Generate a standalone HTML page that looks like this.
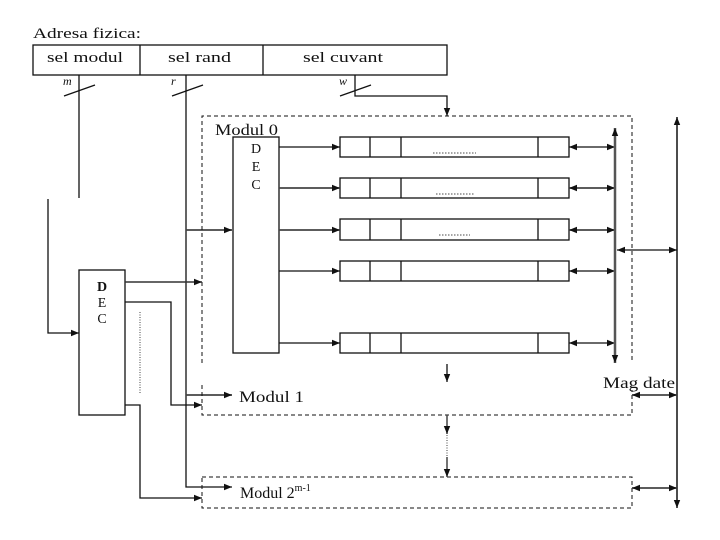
<!DOCTYPE html>
<html><head><meta charset="utf-8"><style>
html,body{margin:0;padding:0;background:#fff;}
svg{display:block;}
text{font-family:"Liberation Serif",serif;fill:#111;}
</style></head><body>
<svg width="720" height="540" viewBox="0 0 720 540" xmlns="http://www.w3.org/2000/svg">
<defs>
<marker id="a" viewBox="0 0 10 10" refX="10" refY="5" markerWidth="11" markerHeight="8" markerUnits="userSpaceOnUse" orient="auto-start-reverse"><path d="M0,1 L10,5 L0,9 z" fill="#111"/></marker>
</defs>
<g stroke="#111" stroke-width="1.3" fill="none">
<rect x="33" y="45" width="414" height="30"/>
<line x1="140" y1="45" x2="140" y2="75"/>
<line x1="263" y1="45" x2="263" y2="75"/>
<line x1="64" y1="96" x2="95" y2="85"/>
<line x1="172" y1="96" x2="203" y2="85"/>
<line x1="340" y1="96" x2="371" y2="85"/>
<line x1="79" y1="75" x2="79" y2="198"/>
<polyline points="48,199 48,333 79,333" marker-end="url(#a)"/>
<polyline points="186,75 186,487 232,487" marker-end="url(#a)"/>
<line x1="186" y1="230" x2="232" y2="230" marker-end="url(#a)" stroke-width="1.8" stroke="#444"/>
<line x1="186" y1="395" x2="232" y2="395" marker-end="url(#a)" stroke-width="1.8" stroke="#444"/>
<polyline points="355,75 355,96 447,96 447,116" marker-end="url(#a)"/>
<g stroke-dasharray="4,3" stroke-width="1">
<polyline points="202,363 202,116 632,116 632,363"/>
<polyline points="202,385 202,415 632,415 632,390"/>
<rect x="202" y="477" width="430" height="31"/>
</g>
<rect x="233" y="137" width="46" height="216"/>
<g>
<rect x="340" y="137" width="229" height="20"/>
<rect x="340" y="178" width="229" height="20"/>
<rect x="340" y="219" width="229" height="21"/>
<rect x="340" y="261" width="229" height="20"/>
<rect x="340" y="333" width="229" height="20"/>
<path d="M370,137V157M401,137V157M538,137V157 M370,178V198M401,178V198M538,178V198 M370,219V240M401,219V240M538,219V240 M370,261V281M401,261V281M538,261V281 M370,333V353M401,333V353M538,333V353"/>
</g>
<g stroke-dasharray="1.5,1.5" stroke-width="0.8">
<line x1="433" y1="153" x2="476" y2="153"/>
<line x1="436" y1="194" x2="474" y2="194"/>
<line x1="439" y1="235" x2="470" y2="235"/>
</g>
<line x1="279" y1="147" x2="340" y2="147" marker-end="url(#a)"/>
<line x1="279" y1="188" x2="340" y2="188" marker-end="url(#a)" stroke-width="1.8" stroke="#444"/>
<line x1="279" y1="230" x2="340" y2="230" marker-end="url(#a)" stroke-width="1.8" stroke="#444"/>
<line x1="279" y1="271" x2="340" y2="271" marker-end="url(#a)"/>
<line x1="279" y1="343" x2="340" y2="343" marker-end="url(#a)"/>
<g marker-start="url(#a)" marker-end="url(#a)">
<line x1="569" y1="147" x2="615" y2="147"/>
<line x1="569" y1="188" x2="615" y2="188" stroke-width="1.8" stroke="#444"/>
<line x1="569" y1="230" x2="615" y2="230" stroke-width="1.8" stroke="#444"/>
<line x1="569" y1="271" x2="615" y2="271"/>
<line x1="569" y1="343" x2="615" y2="343"/>
<line x1="615" y1="128" x2="615" y2="363" stroke-width="2.5" stroke="#555"/>
<line x1="617" y1="250" x2="677" y2="250"/>
<line x1="677" y1="117" x2="677" y2="508" stroke-width="1.5"/>
<line x1="632" y1="395" x2="677" y2="395" stroke-width="1.8" stroke="#444"/>
<line x1="632" y1="488" x2="677" y2="488" stroke-width="1.8" stroke="#444"/>
</g>
<line x1="447" y1="364" x2="447" y2="382" marker-end="url(#a)"/>
<line x1="447" y1="415" x2="447" y2="434" marker-end="url(#a)" stroke="#444" stroke-width="1.5"/>
<line x1="447" y1="435" x2="447" y2="456" stroke-dasharray="1,1.5" stroke-width="0.8"/>
<line x1="447" y1="457" x2="447" y2="477" marker-end="url(#a)" stroke="#444" stroke-width="1.5"/>
<rect x="79" y="270" width="46" height="145"/>
<line x1="125" y1="282" x2="202" y2="282" marker-end="url(#a)" stroke-width="1.6" stroke="#333"/>
<polyline points="125,302 171,302 171,405 202,405" marker-end="url(#a)"/>
<polyline points="125,405 140,405 140,498 202,498" marker-end="url(#a)"/>
<line x1="140" y1="312" x2="140" y2="393" stroke-dasharray="1,1.5" stroke-width="0.8"/>
</g>
<text x="33" y="38" font-size="15" textLength="108" lengthAdjust="spacingAndGlyphs">Adresa fizica:</text>
<text x="47" y="62" font-size="15" textLength="76" lengthAdjust="spacingAndGlyphs">sel modul</text>
<text x="168" y="62" font-size="15" textLength="63" lengthAdjust="spacingAndGlyphs">sel rand</text>
<text x="303" y="62" font-size="15" textLength="80" lengthAdjust="spacingAndGlyphs">sel cuvant</text>
<text x="63" y="85" font-size="12" font-style="italic">m</text>
<text x="171" y="85" font-size="12" font-style="italic">r</text>
<text x="339" y="85" font-size="12" font-style="italic">w</text>
<text x="215" y="135" font-size="16" textLength="63" lengthAdjust="spacingAndGlyphs">Modul 0</text>
<text x="256" y="153" font-size="14" text-anchor="middle">D</text>
<text x="256" y="171" font-size="14" text-anchor="middle">E</text>
<text x="256" y="189" font-size="14" text-anchor="middle">C</text>
<text x="102" y="291" font-size="14" text-anchor="middle" font-weight="bold">D</text>
<text x="102" y="307" font-size="14" text-anchor="middle">E</text>
<text x="102" y="323" font-size="14" text-anchor="middle">C</text>
<text x="239" y="402" font-size="16" textLength="65" lengthAdjust="spacingAndGlyphs">Modul 1</text>
<text x="240" y="498" font-size="16">Modul 2<tspan font-size="10" dy="-7">m-1</tspan></text>
<text x="603" y="388" font-size="16" textLength="72" lengthAdjust="spacingAndGlyphs">Mag date</text>
</svg>
</body></html>
